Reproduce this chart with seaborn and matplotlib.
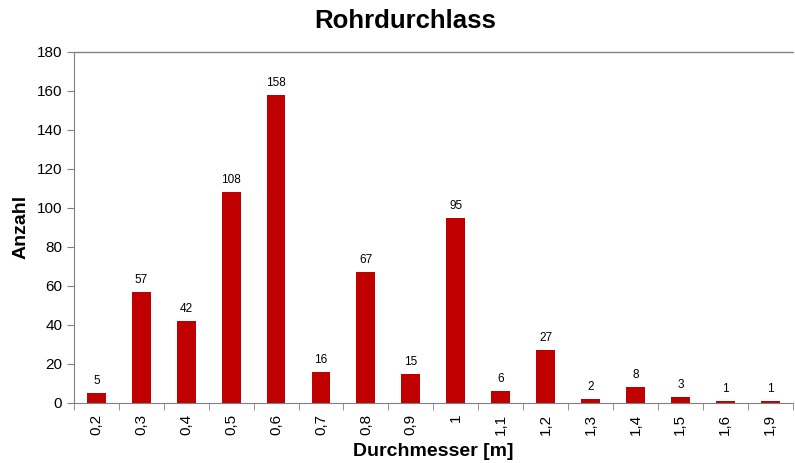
import matplotlib
matplotlib.use("Agg")
import matplotlib.pyplot as plt
import seaborn as sns
import pandas as pd

# --- Daten ---
durchmesser = ["0,2", "0,3", "0,4", "0,5", "0,6", "0,7", "0,8", "0,9", "1",
               "1,1", "1,2", "1,3", "1,4", "1,5", "1,6", "1,9"]
anzahl = [5, 57, 42, 108, 158, 16, 67, 15, 95, 6, 27, 2, 8, 3, 1, 1]

df = pd.DataFrame({"Durchmesser": durchmesser, "Anzahl": anzahl})

sns.set_style("white")
plt.rcParams["font.family"] = ["Liberation Sans", "DejaVu Sans"]
plt.rcParams["text.color"] = "black"
plt.rcParams["xtick.color"] = "black"
plt.rcParams["ytick.color"] = "black"
plt.rcParams["axes.labelcolor"] = "black"

fig = plt.figure(figsize=(7.95, 4.63), dpi=100)
ax = fig.add_axes([0.093, 0.13, 0.904, 0.758])

sns.barplot(data=df, x="Durchmesser", y="Anzahl", color="#C00000",
            width=0.42, saturation=1, linewidth=0, ax=ax)

# Werte über den Balken
for i, v in enumerate(anzahl):
    ax.text(i, v + 3, str(v), ha="center", va="bottom", fontsize=8.5)

ax.set_ylim(0, 180)
ax.set_yticks(range(0, 181, 20))
ax.set_xlim(-0.5, len(durchmesser) - 0.5)
ax.set_xticks([x - 0.5 for x in range(len(durchmesser) + 1)], minor=True)
ax.tick_params(axis="x", which="major", length=0, rotation=90, labelsize=11,
               pad=8, labelcolor="black")
ax.tick_params(axis="x", which="minor", length=5, color="#808080", direction="out")
ax.tick_params(axis="y", length=5, color="#808080", direction="out",
               labelsize=11, labelcolor="black")
ax.xaxis.set_tick_params(bottom=True, which="minor")
ax.yaxis.set_tick_params(left=True)

for s in ["left", "bottom"]:
    ax.spines[s].set_color("#808080")
ax.spines["right"].set_visible(False)
ax.spines["top"].set_visible(False)
ax.axhline(180, color="#808080", lw=1, clip_on=False)

fig.text(0.51, 0.955, "Rohrdurchlass", fontsize=18.5, fontweight="bold",
         ha="center", va="center")
ax.set_xlabel("Durchmesser [m]", fontsize=14, fontweight="bold", labelpad=6)
ax.set_ylabel("Anzahl", fontsize=14, fontweight="bold", labelpad=5)

fig.savefig("out.png", dpi=100)
